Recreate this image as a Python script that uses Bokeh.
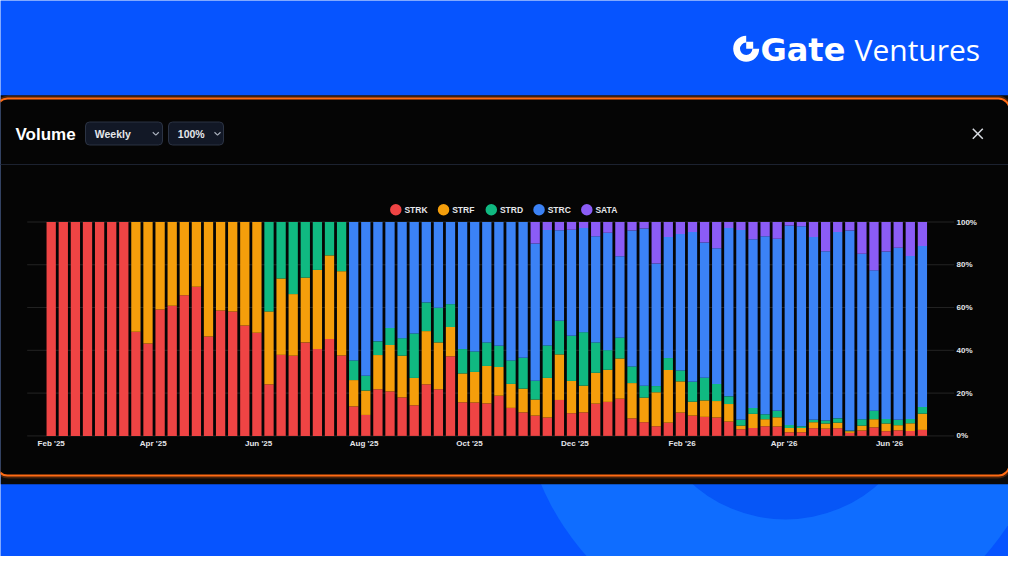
import math
import pandas as pd
from bokeh.plotting import figure
from bokeh.models import (ColumnDataSource, Range1d, LinearAxis, FixedTicker,
                          DatetimeTickFormatter, NumeralTickFormatter)
from bokeh.core.properties import value
from bokeh.embed import file_html
from bokeh.resources import INLINE

# ---------------- data ----------------
start_week = "2025-02-01"
n_weeks = 73
series = ["STRK", "STRF", "STRD", "STRC", "SATA"]
colors = ["#ef4444", "#f59e0b", "#10b981", "#3b82f6", "#8b5cf6"]

strk = [100, 100, 100, 100, 100, 100, 100,
        48.7, 43.2, 59.1, 60.8, 65.8, 69.7, 46.5, 58.6, 58.2, 51.6, 48.2,
        24.1, 37.9, 37.5, 43.7, 40.6, 45.3, 37.6,
        13.8, 9.8, 21.8, 20.8, 18.0, 14.3, 24.1, 21.8, 37.2, 15.7, 15.6, 15.2, 18.8, 13.1, 11.0,
        9.5, 8.6, 16.8, 10.6, 11.0, 15.1, 15.9, 17.4, 8.2, 6.4, 4.5, 6.2, 10.9, 9.5, 8.9, 8.6,
        6.7, 3.1, 3.7, 4.5, 4.4, 1.7, 1.7, 3.6, 3.4, 3.6, 1.4, 2.5, 4.0, 2.2, 2.6, 2.3, 2.8]
strf = [0, 0, 0, 0, 0, 0, 0,
        51.3, 56.8, 40.9, 39.2, 34.2, 30.3, 53.5, 41.4, 41.8, 48.4, 51.8,
        34.1, 35.7, 28.8, 30.3, 37.0, 39.1, 39.4,
        12.3, 11.4, 16.0, 21.7, 19.5, 12.8, 24.9, 21.9, 13.7, 13.5, 14.3, 17.5, 13.4, 11.2, 11.1,
        7.5, 18.5, 21.3, 15.1, 12.5, 14.4, 15.0, 18.8, 16.5, 11.5, 15.9, 24.6, 14.6, 6.5, 7.7, 7.7,
        8.2, 1.7, 6.6, 3.3, 4.3, 2.0, 2.0, 2.8, 2.4, 2.6, 0.8, 2.3, 3.8, 3.6, 2.4, 3.6, 7.6]
strd = [0, 0, 0, 0, 0, 0, 0,
        0, 0, 0, 0, 0, 0, 0, 0, 0, 0, 0,
        41.8, 26.4, 33.7, 26.0, 22.4, 15.6, 23.0,
        9.2, 6.9, 6.4, 8.0, 8.2, 20.8, 13.4, 16.2, 10.7, 11.4, 9.6, 11.0, 9.9, 11.0, 14.4,
        8.8, 15.2, 15.7, 21.1, 25.0, 14.2, 9.2, 9.7, 7.8, 5.6, 2.9, 5.6, 5.1, 9.3, 10.6, 8.0,
        3.6, 2.7, 2.8, 2.3, 3.0, 1.4, 0.8, 1.1, 1.4, 2.0, 0.3, 3.0, 4.0, 2.1, 2.5, 2.0, 3.1]
strc = [0, 0, 0, 0, 0, 0, 0,
        0, 0, 0, 0, 0, 0, 0, 0, 0, 0, 0,
        0, 0, 0, 0, 0, 0, 0,
        64.7, 71.9, 55.8, 49.5, 54.3, 52.1, 37.6, 40.1, 38.4, 59.4, 60.5, 56.3, 57.9, 64.7, 63.5,
        64.2, 54.0, 42.3, 49.6, 48.7, 49.6, 54.9, 38.1, 63.5, 73.5, 57.3, 56.6, 63.8, 70.0, 63.2, 63.4,
        78.7, 88.8, 78.8, 83.2, 80.5, 93.3, 93.5, 85.5, 79.1, 87.1, 93.5, 77.4, 65.6, 78.3, 80.5, 76.2, 75.3]
sata = [0, 0, 0, 0, 0, 0, 0,
        0, 0, 0, 0, 0, 0, 0, 0, 0, 0, 0,
        0, 0, 0, 0, 0, 0, 0,
        0, 0, 0, 0, 0, 0, 0, 0, 0, 0, 0, 0, 0, 0, 0,
        10.0, 3.7, 3.9, 3.6, 2.8, 6.7, 5.0, 16.0, 4.0, 3.0, 19.4, 7.0, 5.6, 4.7, 9.6, 12.3,
        2.8, 3.7, 8.1, 6.7, 7.8, 1.6, 2.0, 7.0, 13.7, 4.7, 4.0, 14.8, 22.6, 13.8, 12.0, 15.9, 11.2]

x_tick_dates = ["2025-02-01", "2025-04-01", "2025-06-01", "2025-08-01", "2025-10-01",
                "2025-12-01", "2026-02-01", "2026-04-01", "2026-06-01"]
y_ticks = [0, 0.2, 0.4, 0.6, 0.8, 1.0]

# ---------------- layout helpers (reference pixels -> canvas pixels) ----------------
W, H = 1008, 556
OFF = 8
def cx(x):
    return x - OFF
def cy(y):
    return y - OFF

FONT = value("Liberation Sans")
TXT = "#e5e7eb"

# shares (100% stacked)
dates = pd.date_range(start_week, periods=n_weeks, freq="7D")
vals = {"STRK": strk, "STRF": strf, "STRD": strd, "STRC": strc, "SATA": sata}
totals = [sum(v[i] for v in vals.values()) for i in range(n_weeks)]
data = {"date": dates}
for s in series:
    data[s] = [vals[s][i] / totals[i] for i in range(n_weeks)]
src = ColumnDataSource(data)

p = figure(width=W, height=H, output_backend="svg", toolbar_location=None,
           x_range=Range1d(0, W), y_range=Range1d(H, 0),
           x_axis_type=None, y_axis_type=None,
           min_border=0, min_border_left=0, min_border_right=0,
           min_border_top=0, min_border_bottom=0)
p.outline_line_color = None
p.background_fill_color = "#0654ff"
p.border_fill_color = "#0654ff"
p.xgrid.visible = False
p.ygrid.visible = False

# time scale: first bar centre at ref x 58.7, 12.1 px per week
px_per_ms = 12.1 / (7 * 86400000)
t0 = pd.Timestamp(start_week).value / 1e6
first_px = cx(58.7)
p.extra_x_ranges = {"t": Range1d(t0 - first_px / px_per_ms, t0 + (W - first_px) / px_per_ms)}
# percent scale: 0% at ref y 443.4, 100% at ref y 229.5
zero_px = cy(443.4)
unit_px = 443.4 - 229.5
p.extra_y_ranges = {"pct": Range1d(-(H - zero_px) / unit_px, zero_px / unit_px)}

# ---------------- background decoration ----------------
p.circle(x=[cx(793)], y=[cy(387)], radius=266, fill_color="#0f6dff", line_color=None)
p.circle(x=[cx(793)], y=[cy(387)], radius=140, fill_color="#0656f7", line_color=None)
p.quad(left=[0], right=[W], top=[cy(102.7)], bottom=[cy(491.7)],
       fill_color="#0a0a0a", line_color=None)
p.quad(left=[cx(4)], right=[cx(1017)], top=[cy(106)], bottom=[cy(483)],
       fill_color=None, line_color="#ff6a13", line_alpha=0.25, line_width=6, border_radius=12)
p.quad(left=[cx(4)], right=[cx(1017)], top=[cy(106)], bottom=[cy(483)],
       fill_color="#050505", line_color="#ff6a13", line_width=2, border_radius=11)
p.segment(x0=[cx(5)], x1=[cx(1016)], y0=[cy(172)], y1=[cy(172)],
          line_color="#1c2230", line_width=1)

# logo
p.annular_wedge(x=[cx(753.7)], y=[cy(56.3)], inner_radius=6.2, outer_radius=13,
                start_angle=math.pi / 2, end_angle=2 * math.pi, direction="anticlock",
                fill_color="white", line_color=None)
p.quad(left=[cx(753.7)], right=[cx(760.7)], top=[cy(49.3)], bottom=[cy(56.3)],
       fill_color="white", line_color=None)
p.text(x=[cx(768)], y=[cy(57)], text=["Gate"], text_font=value("DejaVu Sans"),
       text_font_style="bold", text_font_size="32px", text_color="white",
       text_baseline="middle", text_align="left")
p.text(x=[cx(862)], y=[cy(57)], text=["Ventures"], text_font=value("Open Sans"),
       text_font_size="30px", text_color="white",
       text_baseline="middle", text_align="left")

# header
p.text(x=[cx(23)], y=[cy(141.5)], text=["Volume"], text_font=FONT, text_font_style="bold",
       text_font_size="17px", text_color="white", text_baseline="middle")
p.quad(left=[cx(93), cx(176)], right=[cx(170), cx(231)], top=[cy(129.5), cy(129.5)],
       bottom=[cy(152.5), cy(152.5)], fill_color="#121826", line_color="#2b3343",
       line_width=1, border_radius=4)
p.text(x=[cx(102.3), cx(185.3)], y=[cy(141.3), cy(141.3)], text=["Weekly", "100%"],
       text_font=FONT, text_font_style="bold", text_font_size="10.5px", text_color=TXT,
       text_baseline="middle")
chev_x = [cx(163.3), cx(225)]
p.multi_line(xs=[[c - 3, c, c + 3] for c in chev_x], ys=[[cy(139.8), cy(142.6), cy(139.8)]] * 2,
             line_color="#aab1bd", line_width=1.2)
p.multi_line(xs=[[cx(980.3), cx(990.3)], [cx(980.3), cx(990.3)]],
             ys=[[cy(136.2), cy(146.2)], [cy(146.2), cy(136.2)]],
             line_color="#d9dce2", line_width=1.5)

# ---------------- chart ----------------
p.segment(x0=[cx(34.7)] * len(y_ticks), x1=[cx(961.7)] * len(y_ticks), y0=y_ticks, y1=y_ticks,
          y_range_name="pct", line_color="#242424", line_width=1)

bar_w = 9.3 / px_per_ms
p.vbar_stack(series, x="date", width=bar_w, source=src, fill_color=colors, line_color=None,
             x_range_name="t", y_range_name="pct")

# legend
leg_x0, leg_step, leg_y = cx(403.3), 47.75, cy(217.3)
leg_x = [leg_x0 + i * leg_step for i in range(len(series))]
p.scatter(x=leg_x, y=[leg_y] * len(series), marker="circle", size=11.5,
          fill_color=colors, line_color=None)
p.text(x=[x + 8.6 for x in leg_x], y=[leg_y] * len(series), text=series, text_font=FONT,
       text_font_style="bold", text_font_size="8.5px", text_color=TXT,
       text_baseline="middle", text_align="left")

# axes
tick_ms = [pd.Timestamp(d).value / 1e6 for d in x_tick_dates]
fmt = "%b '%y"
xaxis = LinearAxis(x_range_name="t", ticker=FixedTicker(ticks=tick_ms),
                   formatter=DatetimeTickFormatter(days=fmt, months=fmt, years=fmt,
                                                   boundary_scaling=False),
                   fixed_location=cy(443.4))
yaxis = LinearAxis(y_range_name="pct", ticker=FixedTicker(ticks=y_ticks),
                   formatter=NumeralTickFormatter(format="0%"), fixed_location=cx(960))
for ax in (xaxis, yaxis):
    ax.axis_line_color = None
    ax.major_tick_line_color = None
    ax.minor_tick_line_color = None
    ax.major_tick_out = 0
    ax.major_tick_in = 0
    ax.major_label_text_color = TXT
    ax.major_label_text_font = "Liberation Sans"
    ax.major_label_text_font_style = "bold"
    ax.major_label_text_font_size = "8px"
xaxis.major_label_standoff = 3
yaxis.major_label_standoff = 4
p.add_layout(xaxis, "below")
p.add_layout(yaxis, "right")

open("out.html", "w").write(file_html(p, INLINE))
